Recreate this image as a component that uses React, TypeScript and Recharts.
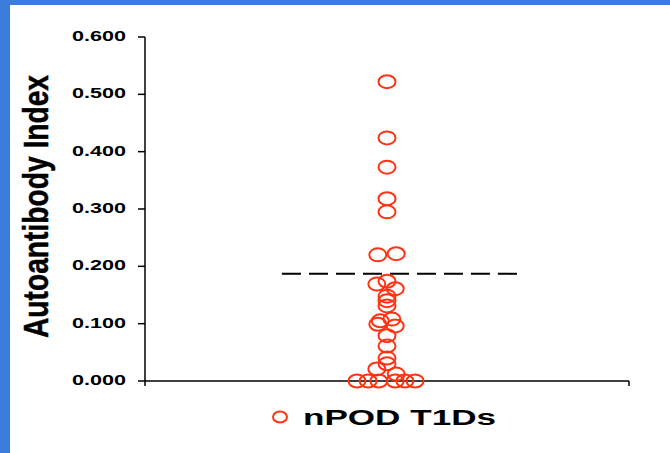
import { ScatterChart, Scatter, XAxis, YAxis, ReferenceLine, Legend } from "recharts";

// nPOD T1D autoantibody index values
const t1dValues = [
  0.522, 0.424, 0.373, 0.318, 0.295, 0.22, 0.222, 0.174, 0.169, 0.161, 0.148, 0.14, 0.131, 0.108, 0.105,
  0.099, 0.096, 0.079, 0.061, 0.04, 0.03, 0.021, 0.012, 0, 0, 0, 0, 0, 0,
];
// horizontal spread of each dot (x axis runs 0..100, column centred on 50)
const t1dSpread = [
  50, 50, 50, 50, 50, 48.1, 51.9, 50, 47.9, 51.7, 50, 50, 50, 51.0, 48.6, 48.1, 51.7, 50, 50, 50, 50, 47.9,
  51.9, 43.8, 46.1, 48.3, 51.7, 53.7, 55.8,
];
const yTicks = [0, 0.1, 0.2, 0.3, 0.4, 0.5, 0.6];
const cutoff = 0.187;
const cutoffSpan = [28.3, 77.7];
const seriesName = "nPOD T1Ds";
const yTitle = "Autoantibody Index";

const RED = "#ff3311";
const FONT = "'Liberation Sans', Arial, sans-serif";

const points = t1dValues.map((v, i) => ({ x: t1dSpread[i], y: v }));

const Dot = (p: any) => (
  <ellipse cx={p.cx} cy={p.cy} rx={8.5} ry={6.5} fill="none" stroke={RED} strokeWidth={2} />
);

const YTick = ({ x, y, payload }: any) => (
  <text
    x={x}
    y={y + 4}
    textAnchor="end"
    fontFamily={FONT}
    fontWeight="bold"
    fontSize={15.5}
    fill="#000"
    textLength={54}
    lengthAdjust="spacingAndGlyphs"
  >
    {Number(payload.value).toFixed(3)}
  </text>
);

const YTitle = () => (
  <text
    transform="translate(48, 206.5) rotate(-90) scale(1, 1.25)"
    textAnchor="middle"
    fontFamily={FONT}
    fontWeight="bold"
    fontSize={28}
    fill="#000"
    stroke="#000"
    strokeWidth={0.4}
    textLength={263}
    lengthAdjust="spacingAndGlyphs"
  >
    {yTitle}
  </text>
);

const LegendBox = () => (
  <svg width={670} height={40} style={{ display: "block" }}>
    <ellipse cx={280} cy={17} rx={7} ry={5.5} fill="none" stroke={RED} strokeWidth={2} />
    <text
      x={303}
      y={25}
      fontFamily={FONT}
      fontWeight="bold"
      fontSize={22}
      fill="#000"
      textLength={193}
      lengthAdjust="spacingAndGlyphs"
    >
      {seriesName}
    </text>
  </svg>
);

export default function App() {
  return (
    <div style={{ position: "absolute", left: 0, top: 0, width: 670, height: 453, background: "#3c7ddb" }}>
      <div style={{ position: "absolute", left: 10, top: 5, width: 660, height: 448, background: "#fff" }} />
      <div style={{ position: "absolute", left: 0, top: 0 }}>
        <ScatterChart width={670} height={453} margin={{ top: 37, right: 41, bottom: 12, left: 0 }}>
          <XAxis
            type="number"
            dataKey="x"
            domain={[0, 100]}
            ticks={[0, 100]}
            tick={() => <g />}
            tickSize={5}
            height={20}
            axisLine={{ stroke: "#000", strokeWidth: 1.5 }}
            tickLine={{ stroke: "#000", strokeWidth: 1.5 }}
          />
          <YAxis
            type="number"
            dataKey="y"
            domain={[0, 0.6]}
            ticks={yTicks}
            width={145}
            tick={<YTick />}
            tickSize={7}
            tickMargin={12}
            axisLine={{ stroke: "#000", strokeWidth: 1.5 }}
            tickLine={{ stroke: "#000", strokeWidth: 1.5 }}
            label={<YTitle />}
          />
          <ReferenceLine
            segment={[
              { x: cutoffSpan[0], y: cutoff },
              { x: cutoffSpan[1], y: cutoff },
            ]}
            stroke="#000"
            strokeWidth={2}
            strokeDasharray="19 8"
          />
          <Scatter name={seriesName} data={points} shape={<Dot />} isAnimationActive={false} />
          <Legend
            content={<LegendBox />}
            wrapperStyle={{ position: "absolute", left: 0, top: 400, width: 670, height: 40 }}
          />
        </ScatterChart>
      </div>
    </div>
  );
}
